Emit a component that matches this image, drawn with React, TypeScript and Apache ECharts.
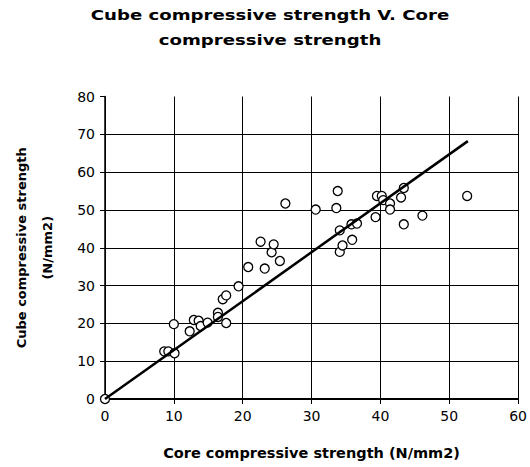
import React, { useEffect, useRef } from "react";
import * as echarts from "echarts";

const chartTitle = "Cube compressive strength V. Core\ncompressive strength";
const xAxisTitle = "Core compressive strength (N/mm2)";
const yAxisTitle = "Cube compressive strength\n(N/mm2)";

// Core compressive strength (x) and cube compressive strength (y), N/mm2
const coreStrength = [
  0, 8.6, 9.2, 10.1, 10.0, 12.3, 12.9, 13.6, 13.9, 14.9, 16.4, 16.4, 17.6, 17.1,
  17.6, 19.4, 20.8, 22.6, 23.2, 24.2, 24.5, 25.4, 26.2, 30.6, 33.8, 33.6, 34.1,
  34.1, 34.5, 35.8, 36.6, 35.9, 39.3, 39.5, 40.2, 40.4, 41.4, 41.4, 43.0, 43.4,
  43.4, 46.1, 52.6,
];
const cubeStrength = [
  0, 12.6, 12.6, 12.1, 19.8, 17.9, 20.9, 20.7, 19.3, 20.2, 22.8, 21.7, 20.1, 26.4,
  27.4, 29.8, 34.9, 41.6, 34.5, 38.8, 40.9, 36.5, 51.7, 50.1, 55.0, 50.5, 44.6,
  38.9, 40.6, 46.2, 46.4, 42.1, 48.1, 53.7, 53.7, 52.6, 51.7, 50.1, 53.3, 55.8,
  46.2, 48.5, 53.7,
];

// Fitted line endpoints (core, cube)
const trendCore = [0, 52.7];
const trendCube = [0, 68.2];

const xTicks = { min: 0, max: 60, interval: 10 };
const yTicks = { min: 0, max: 80, interval: 10 };

export default function App() {
  const ref = useRef<HTMLDivElement>(null);
  useEffect(() => {
    document.body.style.margin = "0";
    const chart = echarts.init(ref.current!, null, { renderer: "svg" });
    const font = "'DejaVu Sans', Verdana, sans-serif";
    chart.setOption({
      animation: false,
      backgroundColor: "#fff",
      graphic: [
        {
          type: "text",
          x: 270,
          y: 3,
          scaleX: 1.25,
          style: {
            text: chartTitle,
            fontFamily: font,
            fontWeight: "bold",
            fontSize: 14.5,
            lineHeight: 25,
            fill: "#000",
            align: "center",
            verticalAlign: "top",
          },
        },
      ],
      grid: { left: 98, right: 10, top: 96.5, bottom: 68 },
      xAxis: {
        type: "value",
        min: xTicks.min,
        max: xTicks.max,
        interval: xTicks.interval,
        name: xAxisTitle,
        nameLocation: "middle",
        nameGap: 46,
        nameTextStyle: { fontFamily: font, fontWeight: "bold", fontSize: 14.5, color: "#000" },
        axisLine: { onZero: false, lineStyle: { color: "#000", width: 2 } },
        axisTick: { show: true, inside: false, length: 5, lineStyle: { color: "#000" } },
        axisLabel: { fontFamily: font, fontSize: 14, color: "#000", margin: 10 },
        splitLine: { show: true, lineStyle: { color: "#000", width: 1 } },
      },
      yAxis: {
        type: "value",
        min: yTicks.min,
        max: yTicks.max,
        interval: yTicks.interval,
        name: yAxisTitle,
        nameLocation: "middle",
        nameRotate: 90,
        nameGap: 45,
        nameTextStyle: {
          fontFamily: font,
          fontWeight: "bold",
          fontSize: 13,
          lineHeight: 26,
          color: "#000",
          align: "center",
        },
        axisLine: { onZero: false, lineStyle: { color: "#000", width: 1.5 } },
        axisTick: { show: true, inside: false, length: 5, lineStyle: { color: "#000" } },
        axisLabel: { fontFamily: font, fontSize: 14, color: "#000", margin: 10 },
        splitLine: { show: true, showMaxLine: false, lineStyle: { color: "#000", width: 1 } },
      },
      series: [
        {
          type: "scatter",
          data: coreStrength.map((x, i) => [x, cubeStrength[i]]),
          symbol: "circle",
          symbolSize: 9,
          clip: false,
          itemStyle: { color: "#fff", borderColor: "#000", borderWidth: 1.3, opacity: 1 },
          z: 3,
        },
        {
          type: "line",
          data: trendCore.map((x, i) => [x, trendCube[i]]),
          showSymbol: false,
          symbol: "none",
          lineStyle: { color: "#000", width: 2.5 },
          z: 4,
        },
      ],
    });
    return () => chart.dispose();
  }, []);
  return <div ref={ref} style={{ width: 530, height: 467 }} />;
}
